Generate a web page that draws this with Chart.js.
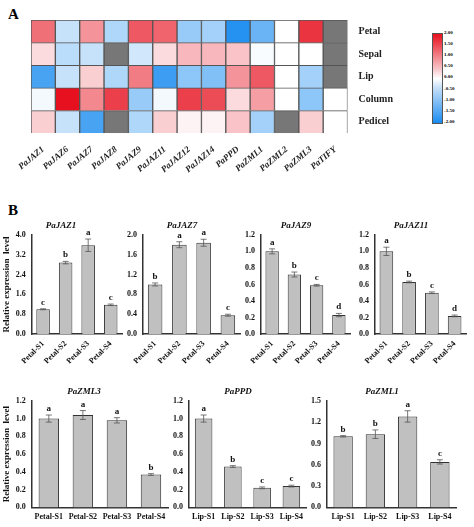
<!DOCTYPE html>
<html><head><meta charset="utf-8">
<script src="https://cdn.jsdelivr.net/npm/chart.js@4.4.0/dist/chart.umd.min.js"></script>
<style>
body{margin:0;background:#fff;width:474px;height:527px;position:relative;overflow:hidden;font-family:"Liberation Serif",serif}
.box{position:absolute}
.lbl{position:absolute;font-weight:bold;font-size:15px}
#cbar{position:absolute;left:432px;top:33px;width:9px;height:89px;border:1px solid #555;
background:linear-gradient(#e8101e,#f8c8cc 40%,#fff 50%,#c8e0f8 60%,#1a8cf0)}
.ct{position:absolute;left:444px;font-size:5px;font-weight:bold}
</style></head><body>
<div class="lbl" style="left:8px;top:6px">A</div>
<div class="lbl" style="left:8px;top:202px">B</div>
<div id="cbar"></div>
<div class="box" style="left:0;top:10px;width:400px;height:168px"><canvas id="heat"></canvas></div>
<div class="box" style="left:0;top:220px;width:124px;height:148px"><canvas id="c0"></canvas></div>
<div class="box" style="left:124px;top:220px;width:118px;height:148px"><canvas id="c1"></canvas></div>
<div class="box" style="left:242px;top:220px;width:110px;height:148px"><canvas id="c2"></canvas></div>
<div class="box" style="left:356px;top:220px;width:112px;height:148px"><canvas id="c3"></canvas></div>
<div class="box" style="left:0;top:386px;width:170px;height:138px"><canvas id="c4"></canvas></div>
<div class="box" style="left:170px;top:386px;width:138px;height:138px"><canvas id="c5"></canvas></div>
<div class="box" style="left:308px;top:386px;width:150px;height:138px"><canvas id="c6"></canvas></div>
<script>
const genes = ['PaJAZ1','PaJAZ6','PaJAZ7','PaJAZ8','PaJAZ9','PaJAZ11','PaJAZ12','PaJAZ14','PaPPD','PaZML1','PaZML2','PaZML3','PaTIFY'];
const tissues = ['Petal','Sepal','Lip','Column','Pedicel'];
const petalRow   = [1.2,-0.5,0.9,-0.7,1.4,1.3,-0.9,-0.8,-1.9,-1.3,0,1.7,null];
const sepalRow   = [0.3,-0.6,-0.5,null,-0.4,0.3,0.6,0.6,0.5,-0.05,0,0,null];
const lipRow     = [-1.6,-0.5,0.4,-0.7,1.1,-1.7,-1.0,-1.1,0.9,1.4,0,-0.8,null];
const columnRow  = [-0.1,2.0,1.0,1.6,-0.9,-0.1,1.6,1.5,0.3,0.8,0,-1.0,0];
const pedicelRow = [0.4,-0.5,-1.6,null,-0.7,0.4,0.1,0.1,0.5,-0.8,null,0.4,0];
const heatRows = [petalRow,sepalRow,lipRow,columnRow,pedicelRow];
const cbTicks = ['2.00','1.50','1.00','0.50','0.00','-0.50','-1.00','-1.50','-2.00'];

const stages = ['Petal-S1','Petal-S2','Petal-S3','Petal-S4'];
const lipStages = ['Lip-S1','Lip-S2','Lip-S3','Lip-S4'];
const titles = ['PaJAZ1','PaJAZ7','PaJAZ9','PaJAZ11','PaZML3','PaPPD','PaZML1'];
const means = [[1.0,2.88,3.58,1.18],[1.0,1.8,1.84,0.38],[1.0,0.72,0.59,0.23],[1.0,0.63,0.5,0.22],
  [1.0,1.04,0.98,0.37],[1.0,0.46,0.22,0.24],[1.0,1.03,1.28,0.64]];
const errs = [[0.02,0.05,0.25,0.03],[0.03,0.06,0.07,0.02],[0.03,0.03,0.01,0.02],[0.05,0.01,0.01,0.01],
  [0.04,0.05,0.03,0.01],[0.04,0.01,0.01,0.01],[0.01,0.06,0.08,0.03]];
const letters = [['c','b','a','c'],['b','a','a','c'],['a','b','c','d'],['a','b','c','d'],
  ['a','a','a','b'],['a','b','c','c'],['b','b','a','c']];
const yMax = [4,2,1.2,1.2,1.2,1.2,1.5];
const yStep = [0.8,0.4,0.2,0.2,0.2,0.2,0.3];

cbTicks.forEach((t,i)=>{const d=document.createElement('div');d.className='ct';d.textContent=t;
  d.style.top=(30+i*11.1)+'px';document.body.appendChild(d);});

function color(v){
  if(v===null) return '#777777';
  const t=Math.min(1,Math.abs(v)/2);
  const hi = v>=0 ? [230,16,30] : [26,140,240];
  const c = hi.map(h=>Math.round(255+(h-255)*t));
  return `rgb(${c[0]},${c[1]},${c[2]})`;
}
const F='"Liberation Serif", serif';
// stacked bars, bottom dataset = Pedicel
const heatSets = heatRows.slice().reverse().map((row,k)=>({
  label: tissues[4-k], data: genes.map(()=>1),
  backgroundColor: row.map(color), borderColor:'#555', borderWidth:1,
  barPercentage:1, categoryPercentage:1
}));
new Chart(document.getElementById('heat'),{
  type:'bar', data:{labels:genes,datasets:heatSets},
  options:{responsive:true,maintainAspectRatio:false,animation:false,
    layout:{padding:{left:31,top:10,right:4}},
    plugins:{legend:{display:false},tooltip:{enabled:false}},
    scales:{
      x:{stacked:true,grid:{display:false},border:{display:false},
        ticks:{maxRotation:40,minRotation:40,color:'#222',font:{family:F,size:9,weight:'bold',style:'italic'}}},
      y:{stacked:true,position:'right',min:0,max:5,grid:{display:false},border:{display:false},
        afterBuildTicks:a=>{a.ticks=[0.5,1.5,2.5,3.5,4.5].map(v=>({value:v}));},
        ticks:{color:'#222',font:{family:F,size:10,weight:'bold'},callback:v=>tissues[4-Math.floor(v)]}}
    }}
});

const errPlugin={id:'err',afterDatasetsDraw(ch,a,opt){
  const c=ch.ctx,m=ch.getDatasetMeta(0),ys=ch.scales.y;
  c.save();c.strokeStyle='#555';c.lineWidth=0.8;c.fillStyle='#111';
  c.font='bold 9px '+F;c.textAlign='center';
  m.data.forEach((b,i)=>{
    const v=opt.m[i],e=opt.e[i],t=ys.getPixelForValue(v+e),bo=ys.getPixelForValue(v-e);
    c.beginPath();c.moveTo(b.x,t);c.lineTo(b.x,bo);c.moveTo(b.x-3,t);c.lineTo(b.x+3,t);
    c.moveTo(b.x-3,bo);c.lineTo(b.x+3,bo);c.stroke();
    c.fillText(opt.l[i],b.x,t-4);
  });c.restore();}};

titles.forEach((tt,i)=>{
  const top=i<4, labs=(i<5)?stages:lipStages, first=(i===0||i===4);
  new Chart(document.getElementById('c'+i),{
    type:'bar',
    data:{labels:labs,datasets:[{data:means[i],backgroundColor:'#c0c0c0',borderColor:'#333',borderWidth:1,
      barPercentage:0.6,categoryPercentage:1}]},
    plugins:[errPlugin],
    options:{responsive:true,maintainAspectRatio:false,animation:false,
      layout:{padding:{right:2}},
      plugins:{legend:{display:false},tooltip:{enabled:false},
        err:{m:means[i],e:errs[i],l:letters[i]},
        title:{display:true,text:tt,color:'#111',padding:{top:0,bottom:4},font:{family:F,size:9,weight:'bold',style:'italic'}}},
      scales:{
        x:{grid:{display:false,drawTicks:true,offset:true,tickLength:3,color:'#333'},border:{color:'#333',width:1.5},
          ticks:{color:'#111',maxRotation:top?45:0,minRotation:top?45:0,padding:2,font:{family:F,size:8,weight:'bold'}}},
        y:{min:0,max:yMax[i],grid:{display:false,tickLength:3,drawTicks:true},border:{color:'#333',width:1.5},
          title:{display:first,text:'Relative expression  level',color:'#111',padding:1,font:{family:F,size:9,weight:'bold'}},
          ticks:{stepSize:yStep[i],color:'#111',font:{family:F,size:8,weight:'bold'},callback:v=>v.toFixed(1)}}
      }}
  });
});
</script></body></html>
